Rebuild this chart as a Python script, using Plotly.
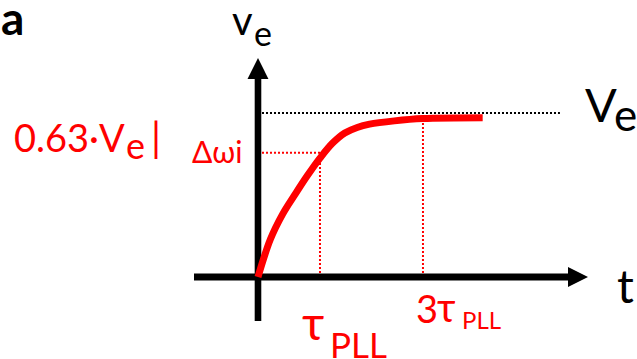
import plotly.graph_objects as go

# Step response of the PLL error voltage (time in units of tau_PLL, voltage in units of Ve)
t_curve = [0.0, 0.2, 0.4, 0.6, 0.8, 1.0, 1.2, 1.4, 1.6, 1.8, 2.2, 2.661, 3.624]
v_curve = [0.0, 0.23, 0.385, 0.505, 0.62, 0.725, 0.815, 0.878, 0.912, 0.932, 0.952, 0.966, 0.971]

# Reference levels / instants marked on the sketch
v_final = 1.0           # Ve asymptote
v_tau = 0.758           # 0.63*Ve level marker
t_marks = [1.0, 2.661]  # tau_PLL and 3*tau_PLL markers
v_marks = [0.758, 0.966]

RED = "#FF0000"
BLACK = "#000000"
FONT = "Lato, 'Noto Sans', 'DejaVu Sans', sans-serif"

fig = go.Figure()

shapes = []
# asymptote Ve
shapes.append(dict(type="line", xref="x", yref="y", x0=0, x1=4.87, y0=v_final, y1=v_final,
                   line=dict(color=BLACK, width=2, dash="2px,2px"), layer="below"))
# 0.63 level
shapes.append(dict(type="line", xref="x", yref="y", x0=0, x1=t_marks[0], y0=v_tau, y1=v_tau,
                   line=dict(color=RED, width=2, dash="2px,2px"), layer="below"))
# time markers
for tm, vm in zip(t_marks, v_marks):
    shapes.append(dict(type="line", xref="x", yref="y", x0=tm, x1=tm, y0=0, y1=vm,
                       line=dict(color=RED, width=2, dash="2px,2px"), layer="below"))
# axes with arrow heads
shapes.append(dict(type="line", xref="x", yref="y", x0=-1.032, x1=5.02, y0=0, y1=0,
                   line=dict(color=BLACK, width=7), layer="below"))
shapes.append(dict(type="line", xref="x", yref="y", x0=0, x1=0, y0=-0.268, y1=1.22,
                   line=dict(color=BLACK, width=6.6), layer="below"))
shapes.append(dict(type="path", xref="x", yref="y",
                   path="M 5.0,-0.061 L 5.323,0 L 5.0,0.061 Z",
                   fillcolor=BLACK, line=dict(color=BLACK, width=0), layer="below"))
shapes.append(dict(type="path", xref="x", yref="y",
                   path="M -0.169,1.207 L 0,1.335 L 0.169,1.207 Z",
                   fillcolor=BLACK, line=dict(color=BLACK, width=0), layer="below"))

fig.add_trace(go.Scatter(x=t_curve, y=v_curve, mode="lines",
                         line=dict(color=RED, width=7, shape="spline", smoothing=1.0),
                         hoverinfo="skip", showlegend=False))


def label(text, x, y, size, color, xanchor="left", xref="x", yref="y", bold=False):
    if bold:
        text = "<b>" + text + "</b>"
    return dict(text=text, x=x, y=y, xref=xref, yref=yref, xanchor=xanchor, yanchor="middle",
                showarrow=False, font=dict(family=FONT, size=size, color=color),
                borderpad=0)


annotations = [
    label("a", 0, 1.584, 46, BLACK, xref="paper", bold=True),
    # axis titles
    label("v", -0.435, 1.570, 40, BLACK),
    label("e", -0.081, 1.489, 34, BLACK),
    label("t", 5.774, -0.048, 47, BLACK),
    # asymptote label
    label("V", 5.258, 1.056, 47, BLACK),
    label("e", 5.726, 0.995, 44, BLACK),
    # 0.63 level label
    label("0.63·V", -3.952, 0.852, 38, RED),
    label("e", -2.145, 0.806, 36, RED),
    label("|", -1.645, 0.851, 40, RED, xanchor="center"),
    label("Δωi", -1.081, 0.766, 30, RED),
    # time marker labels
    label("τ", 0.895, -0.271, 48, RED, xanchor="center"),
    label("PLL", 1.145, -0.410, 35, RED),
    label("3", 2.532, -0.187, 38, RED),
    label("τ", 3.040, -0.180, 40, RED, xanchor="center"),
    label("PLL", 3.274, -0.260, 24, RED),
]

fig.update_layout(
    width=637, height=359,
    margin=dict(l=0, r=0, t=0, b=0),
    paper_bgcolor="white", plot_bgcolor="white",
    xaxis=dict(range=[-4.161, 6.113], visible=False, fixedrange=True),
    yaxis=dict(range=[-0.5, 1.689], visible=False, fixedrange=True),
    shapes=shapes, annotations=annotations, showlegend=False,
)

fig.write_html("out.html")
